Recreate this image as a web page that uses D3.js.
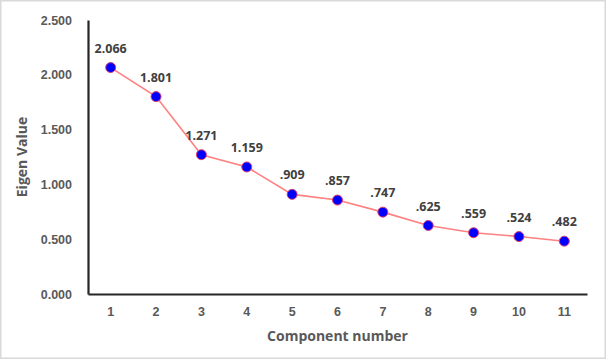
<!DOCTYPE html>
<html>
<head>
<meta charset="utf-8">
<script src="https://cdn.jsdelivr.net/npm/d3@7"></script>
<style>
body { margin: 0; background: #fff; }
svg { display: block; font-family: "Open Sans", sans-serif; }
</style>
</head>
<body>
<svg id="scree" width="606" height="359"></svg>
<script>
var components = ["1", "2", "3", "4", "5", "6", "7", "8", "9", "10", "11"];
var eigenValues = [2.066, 1.801, 1.271, 1.159, 0.909, 0.857, 0.747, 0.625, 0.559, 0.524, 0.482];
var valueLabels = ["2.066", "1.801", "1.271", "1.159", ".909", ".857", ".747", ".625", ".559", ".524", ".482"];
var yTicks = [0, 0.5, 1, 1.5, 2, 2.5];

var svg = d3.select("#scree"),
margin = {top: 20, right: 19, bottom: 65, left: 88},
width = +svg.attr("width") - margin.left - margin.right,
height = +svg.attr("height") - margin.top - margin.bottom;

// frame around the picture
svg.append("rect")
   .attr("x", 0.75).attr("y", 0.75)
   .attr("width", 604.5).attr("height", 357.5)
   .attr("fill", "none")
   .attr("stroke", "#d9d9d9")
   .attr("stroke-width", 1.5);

var g = svg.append("g").attr("transform", "translate(" + margin.left + "," + margin.top + ")");

var x = d3.scaleBand()
          .domain(components)
          .range([0, width])
          .padding(0);

var y = d3.scaleLinear()
          .domain([0, 2.5])
          .range([height, 0]);

var xAxis = g.append("g")
     .attr("class", "axis axis--x")
     .attr("transform", "translate(0," + height + ")")
     .call(d3.axisBottom(x).tickSize(0).tickPadding(13));

var yAxis = g.append("g")
     .attr("class", "axis axis--y")
     .call(d3.axisLeft(y).tickValues(yTicks).tickSize(0).tickPadding(16).tickFormat(d3.format(".3f")));

[xAxis, yAxis].forEach(function(a) {
  a.select(".domain").attr("stroke", "#262626").attr("stroke-width", 2.2);
  a.selectAll("text")
    .attr("fill", "#595959")
    .style("font-size", "12.5px")
    .style("font-weight", "bold");
});

g.append("text")
   .attr("x", width / 2)
   .attr("y", height + 47)
   .attr("text-anchor", "middle")
   .attr("fill", "#595959")
   .style("font-size", "14px")
   .style("font-weight", "bold")
   .text("Component number");

g.append("text")
   .attr("transform", "rotate(-90)")
   .attr("x", -height / 2)
   .attr("y", -61)
   .attr("text-anchor", "middle")
   .attr("fill", "#595959")
   .style("font-size", "14px")
   .style("font-weight", "bold")
   .text("Eigen Value");

var line = d3.line()
    .x(function(d, i) { return x(components[i]) + x.bandwidth() / 2; })
    .y(function(d) { return y(d); });

g.append("path")
   .datum(eigenValues)
   .attr("fill", "none")
   .attr("stroke", "#ff8080")
   .attr("stroke-width", 1.6)
   .attr("d", line);

g.selectAll(".dot")
  .data(eigenValues)
  .enter().append("circle")
    .attr("class", "dot")
    .attr("cx", function(d, i) { return x(components[i]) + x.bandwidth() / 2; })
    .attr("cy", function(d) { return y(d); })
    .attr("r", 5)
    .attr("fill", "#0000ff")
    .attr("stroke", "#e0406a")
    .attr("stroke-width", 1);

g.selectAll(".lbl")
  .data(eigenValues)
  .enter().append("text")
    .attr("class", "lbl")
    .attr("x", function(d, i) { return x(components[i]) + x.bandwidth() / 2; })
    .attr("y", function(d) { return y(d) - 15; })
    .attr("text-anchor", "middle")
    .attr("fill", "#404040")
    .style("font-size", "12.5px")
    .style("font-weight", "bold")
    .text(function(d, i) { return valueLabels[i]; });
</script>
</body>
</html>
